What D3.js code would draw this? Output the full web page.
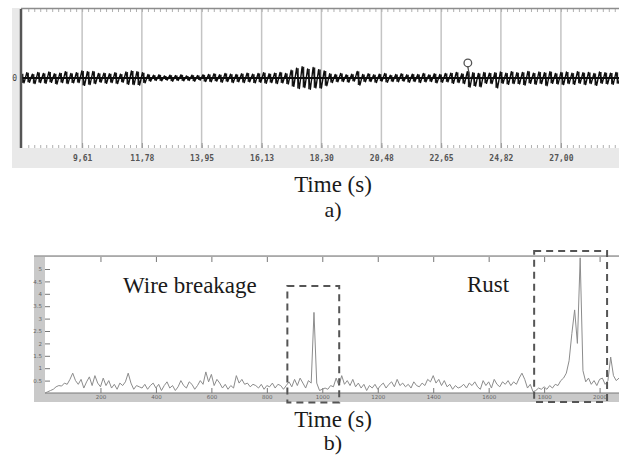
<!DOCTYPE html>
<html>
<head>
<meta charset="utf-8">
<script src="https://cdn.jsdelivr.net/npm/d3@7"></script>
<style>
  body { margin: 0; background: #fff; }
  svg { display: block; }
</style>
</head>
<body>
<div id="chart"></div>
<script>
// panel a) : raw signal, envelope per 0.2 s bin (hi / lo)
const startA = 7.4;
const binA = 0.2;
const hiA = [
  1.2, 1.5, 1.1, 1.6, 1.3, 1.7, 1.2, 1.4, 1.8, 1.3,
  1.5, 2.0, 1.8, 1.9, 1.3, 1.4, 1.2, 1.5, 1.1, 1.7,
  2.0, 1.8, 1.5, 1.0, 0.8, 0.9, 0.6, 0.8, 0.7, 0.9,
  0.6, 0.8, 0.7, 0.9, 1.0, 1.2, 0.9, 1.3, 1.1, 1.0,
  1.2, 1.4, 1.1, 1.3, 1.5, 1.2, 1.4, 1.6, 1.3, 2.2,
  2.8, 3.2, 2.6, 3.0, 2.4, 2.0, 1.2, 1.0, 1.3, 0.9,
  1.1, 1.9, 1.0, 1.2, 0.9, 1.1, 1.3, 0.8, 1.0, 1.2,
  0.9, 1.1, 1.0, 1.3, 0.9, 1.2, 1.0, 1.3, 1.4, 1.6,
  1.2, 1.8, 1.5, 1.3, 1.6, 1.4, 1.5, 1.7, 1.4, 1.8,
  1.5, 1.6, 1.9, 1.4, 1.7, 1.5, 1.8, 1.3, 1.6, 1.7,
  1.4, 1.8, 1.5, 1.6, 1.3, 1.7, 1.5, 1.4, 1.6
];
const loA = [
  -1.4, -1.2, -1.6, -1.3, -1.5, -1.2, -1.7, -1.3, -1.6, -1.4,
  -1.3, -2.1, -1.9, -1.6, -1.2, -1.5, -1.3, -1.6, -1.2, -1.8,
  -1.9, -2.0, -1.4, -0.9, -0.7, -0.8, -0.6, -0.9, -0.7, -0.8,
  -0.7, -0.9, -0.6, -1.0, -1.1, -0.9, -1.2, -1.0, -1.3, -1.1,
  -1.3, -1.1, -1.4, -1.2, -1.5, -1.3, -1.6, -1.4, -1.7, -2.4,
  -3.0, -2.7, -3.2, -2.8, -2.9, -2.2, -1.3, -1.1, -1.0, -1.2,
  -0.9, -2.0, -1.1, -1.0, -1.3, -0.9, -1.2, -1.0, -1.1, -0.9,
  -1.2, -1.0, -1.3, -1.1, -1.0, -1.4, -1.2, -1.1, -1.5, -1.3,
  -1.6, -2.6, -2.3, -2.5, -1.5, -1.6, -2.8, -1.5, -1.8, -1.6,
  -1.7, -2.0, -1.5, -1.8, -1.6, -2.2, -1.5, -1.7, -1.9, -1.6,
  -1.8, -1.5, -1.9, -1.6, -2.1, -1.5, -1.7, -1.8, -1.6
];
const ticksA = [9.61, 11.78, 13.95, 16.13, 18.30, 20.48, 22.65, 24.82, 27.00];
const tickLabelsA = ["9,61", "11,78", "13,95", "16,13", "18,30", "20,48", "22,65", "24,82", "27,00"];
const markerA = { t: 23.62, v: 4.3 };

// panel b) : processed signal, one value every 10 s
const stepB = 10;
const valuesB = [
  0.0, 0.05, 0.1, 0.15, 0.25, 0.3, 0.28, 0.4, 0.35, 0.55,
  0.8, 0.5, 0.35, 0.55, 0.2, 0.45, 0.65, 0.3, 0.7, 0.4,
  0.25, 0.6, 0.3, 0.5, 0.2, 0.35, 0.15, 0.4, 0.3, 0.45,
  0.8, 0.4, 0.15, 0.3, 0.25, 0.2, 0.35, 0.15, 0.3, 0.4,
  0.2, 0.35, 0.1, 0.3, 0.45, 0.2, 0.3, 0.1, 0.25, 0.5,
  0.3, 0.2, 0.45, 0.35, 0.15, 0.3, 0.5, 0.35, 0.85, 0.45,
  0.75, 0.3, 0.55, 0.4, 0.2, 0.35, 0.15, 0.3, 0.2, 0.7,
  0.4, 0.55, 0.35, 0.4, 0.25, 0.35, 0.3, 0.2, 0.35, 0.15,
  0.3, 0.25, 0.4, 0.2, 0.35, 0.3, 0.15, 0.3, 0.45, 0.25,
  0.55, 0.3, 0.6, 0.4, 0.2, 0.5, 0.4, 3.25, 0.4, 0.1,
  0.15, 0.2, 0.15, 0.3, 0.25, 0.6, 0.3, 0.7, 0.35, 0.5,
  0.3, 0.55, 0.25, 0.4, 0.2, 0.35, 0.1, 0.3, 0.2, 0.35,
  0.15, 0.3, 0.4, 0.2, 0.35, 0.45, 0.25, 0.55, 0.3, 0.4,
  0.25, 0.35, 0.2, 0.45, 0.3, 0.25, 0.4, 0.3, 0.55, 0.45,
  0.7, 0.4, 0.55, 0.3, 0.5, 0.25, 0.35, 0.15, 0.3, 0.2,
  0.25, 0.35, 0.2, 0.4, 0.3, 0.45, 0.25, 0.15, 0.5, 0.3,
  0.45, 0.2, 0.55, 0.35, 0.25, 0.45, 0.35, 0.5, 0.3, 0.45,
  0.35, 0.6, 0.8, 0.55, 0.2, 0.35, 0.05, 0.1, 0.2, 0.15,
  0.25, 0.15, 0.3, 0.2, 0.35, 0.3, 0.5, 0.6, 0.8, 1.3,
  2.4, 3.35, 2.0, 5.45, 0.9, 0.45, 0.6, 0.35, 0.5, 0.3,
  0.55, 0.6, 0.35, 0.5, 1.45, 0.7, 0.5, 0.6
];
const ticksBx = [200, 400, 600, 800, 1000, 1200, 1400, 1600, 1800, 2000];
const ticksBy = [0.5, 1, 1.5, 2, 2.5, 3, 3.5, 4, 4.5, 5];
const boxesB = [
  { label: "Wire breakage", t0: 874, t1: 1061, top: 4.31, bottom: -0.38 },
  { label: "Rust", t0: 1764, t1: 2027, top: 5.73, bottom: -0.36 }
];

const serif = "'Liberation Serif', 'Times New Roman', serif";

function drawChart() {
    const svg = d3.select("#chart")
        .append("svg")
        .attr("width", 619)
        .attr("height", 459);

    const blur = svg.append("defs")
        .append("filter")
        .attr("id", "soft")
        .attr("x", "-5%").attr("y", "-50%")
        .attr("width", "110%").attr("height", "200%");
    blur.append("feGaussianBlur").attr("stdDeviation", 0.6);

    drawPanelA(svg);
    drawPanelB(svg);
}

function drawPanelA(svg) {
    const x = d3.scaleLinear().domain([7.39, 29.11]).range([21, 619]);
    const y = d3.scaleLinear().domain([-20, 20]).range([148, 8]);

    svg.append("rect")
        .attr("x", 12).attr("y", 8)
        .attr("width", 607).attr("height", 160)
        .attr("fill", "#e9e9e9");

    svg.append("rect")
        .attr("x", 21).attr("y", 9)
        .attr("width", 598).attr("height", 139)
        .attr("fill", "#fff");

    // grid lines
    svg.append("g")
        .selectAll("line")
        .data(ticksA)
        .join("line")
        .attr("x1", d => x(d)).attr("x2", d => x(d))
        .attr("y1", 9).attr("y2", 148)
        .attr("stroke", "#c4c4c4")
        .attr("stroke-width", 1.5);

    // dotted minor ticks, top and bottom
    const minorStep = (ticksA[ticksA.length - 1] - ticksA[0]) / (ticksA.length - 1) / 10;
    const minor = d3.range(-12, 100)
        .map(k => ticksA[0] + k * minorStep)
        .filter(t => x(t) > 23 && x(t) < 619);

    svg.append("g")
        .attr("transform", "translate(0,9)")
        .attr("color", "#b0b0b0")
        .call(d3.axisBottom(x).tickValues(minor).tickSize(3).tickFormat(""))
        .call(g => g.select(".domain").remove());

    svg.append("g")
        .attr("transform", "translate(0,148)")
        .attr("color", "#b0b0b0")
        .call(d3.axisTop(x).tickValues(minor).tickSize(3).tickFormat(""))
        .call(g => g.select(".domain").remove());

    svg.append("g")
        .attr("transform", "translate(0,148)")
        .attr("color", "#999")
        .call(d3.axisBottom(x).tickValues(ticksA).tickSize(-5)
            .tickFormat((d, i) => tickLabelsA[i]).tickPadding(7))
        .call(g => g.select(".domain").remove())
        .selectAll("text")
        .attr("fill", "#555")
        .style("font-family", "'DejaVu Sans Mono', monospace")
        .style("font-weight", "bold")
        .style("font-size", "8px");

    // top border
    svg.append("line")
        .attr("x1", 21).attr("x2", 619)
        .attr("y1", 8.5).attr("y2", 8.5)
        .attr("stroke", "#8c8c8c")
        .attr("stroke-width", 1.5);

    // signal: min/max bar per bin plus a trace through the extremes
    const sig = svg.append("g").attr("filter", "url(#soft)");

    sig.selectAll("line")
        .data(hiA)
        .join("line")
        .attr("x1", (d, i) => x(startA + i * binA + binA / 4))
        .attr("x2", (d, i) => x(startA + i * binA + binA / 4))
        .attr("y1", d => y(d))
        .attr("y2", (d, i) => y(loA[i]))
        .attr("stroke", "#222")
        .attr("stroke-width", 1.6);

    const pts = [];
    hiA.forEach((h, i) => {
        const t = startA + i * binA;
        pts.push([t, h]);
        pts.push([t + binA / 2, loA[i]]);
    });

    const line = d3.line()
        .x(d => x(d[0]))
        .y(d => y(d[1]));

    sig.append("path")
        .datum(pts)
        .attr("fill", "none")
        .attr("stroke", "#111")
        .attr("stroke-width", 1.4)
        .attr("stroke-linejoin", "round")
        .attr("d", line);

    sig.append("line")
        .attr("x1", x(startA)).attr("x2", 619)
        .attr("y1", y(0)).attr("y2", y(0))
        .attr("stroke", "#111")
        .attr("stroke-width", 2);

    // marker on the trace
    svg.append("line")
        .attr("x1", x(markerA.t)).attr("x2", x(markerA.t) + 2)
        .attr("y1", y(markerA.v) + 4).attr("y2", y(0))
        .attr("stroke", "#444")
        .attr("stroke-width", 1.2);

    svg.append("circle")
        .attr("cx", x(markerA.t))
        .attr("cy", y(markerA.v))
        .attr("r", 3.8)
        .attr("fill", "none")
        .attr("stroke", "#555")
        .attr("stroke-width", 1.3);

    // left axis
    svg.append("g")
        .attr("transform", "translate(21,0)")
        .attr("color", "#555")
        .call(d3.axisLeft(y).tickValues([0]).tickSize(0).tickPadding(4))
        .call(g => g.select(".domain")
            .attr("d", "M0,9V148")
            .attr("stroke-width", 2.5))
        .selectAll("text")
        .attr("fill", "#444")
        .style("font-family", "'DejaVu Sans Mono', monospace")
        .style("font-size", "8px");

    svg.append("text")
        .attr("x", 333).attr("y", 192)
        .attr("text-anchor", "middle")
        .style("font-family", serif)
        .style("font-size", "23px")
        .attr("fill", "#1a1a1a")
        .text("Time (s)");

    svg.append("text")
        .attr("x", 333).attr("y", 217)
        .attr("text-anchor", "middle")
        .style("font-family", serif)
        .style("font-size", "22px")
        .attr("fill", "#1a1a1a")
        .text("a)");
}

function drawPanelB(svg) {
    const x = d3.scaleLinear().domain([0, 2070]).range([45, 619]);
    const y = d3.scaleLinear().domain([0, 5.5]).range([393, 256.6]);

    svg.append("rect")
        .attr("x", 34).attr("y", 255.5)
        .attr("width", 585).attr("height", 146.5)
        .attr("fill", "#c9c9c9");

    svg.append("rect")
        .attr("x", 45).attr("y", 257)
        .attr("width", 574).attr("height", 136)
        .attr("fill", "#fff");

    svg.append("line")
        .attr("x1", 34).attr("x2", 619)
        .attr("y1", 256).attr("y2", 256)
        .attr("stroke", "#8a8a8a")
        .attr("stroke-width", 1.2);

    svg.append("line")
        .attr("x1", 45).attr("x2", 619)
        .attr("y1", 393).attr("y2", 393)
        .attr("stroke", "#7a7a7a")
        .attr("stroke-width", 1.2);

    const tickText = sel => sel.selectAll("text")
        .attr("fill", "#666")
        .style("font-family", "'DejaVu Sans', sans-serif")
        .style("font-size", "5.5px");

    svg.append("g")
        .attr("transform", "translate(0,393)")
        .attr("color", "#777")
        .call(d3.axisBottom(x).tickValues(ticksBx).tickSize(-5).tickPadding(2)
            .tickFormat(d3.format("d")))
        .call(g => g.select(".domain").remove())
        .call(tickText);

    svg.append("g")
        .attr("transform", "translate(0,257)")
        .attr("color", "#777")
        .call(d3.axisTop(x).tickValues(ticksBx).tickSize(-5).tickFormat(""))
        .call(g => g.select(".domain").remove());

    svg.append("g")
        .attr("transform", "translate(45,0)")
        .attr("color", "#777")
        .call(d3.axisLeft(y).tickValues(ticksBy).tickSize(-5).tickPadding(3)
            .tickFormat(d => String(d)))
        .call(g => g.select(".domain").remove())
        .call(tickText);

    const line = d3.line()
        .x((d, i) => x(i * stepB))
        .y(d => y(d));

    svg.append("path")
        .datum(valuesB)
        .attr("fill", "none")
        .attr("stroke", "#8c8c8c")
        .attr("stroke-width", 1)
        .attr("d", line);

    // dashed boxes around the two events
    boxesB.forEach(b => {
        svg.append("rect")
            .attr("x", x(b.t0))
            .attr("y", y(b.top))
            .attr("width", x(b.t1) - x(b.t0))
            .attr("height", y(b.bottom) - y(b.top))
            .attr("fill", "none")
            .attr("stroke", "#555")
            .attr("stroke-width", 2)
            .attr("stroke-dasharray", "7,5");
    });

    svg.append("text")
        .attr("x", 123).attr("y", 293)
        .style("font-family", serif)
        .style("font-size", "23px")
        .attr("fill", "#1a1a1a")
        .text(boxesB[0].label);

    svg.append("text")
        .attr("x", 467).attr("y", 292)
        .style("font-family", serif)
        .style("font-size", "23px")
        .attr("fill", "#1a1a1a")
        .text(boxesB[1].label);

    svg.append("text")
        .attr("x", 333).attr("y", 427)
        .attr("text-anchor", "middle")
        .style("font-family", serif)
        .style("font-size", "23px")
        .attr("fill", "#1a1a1a")
        .text("Time (s)");

    svg.append("text")
        .attr("x", 333).attr("y", 450)
        .attr("text-anchor", "middle")
        .style("font-family", serif)
        .style("font-size", "22px")
        .attr("fill", "#1a1a1a")
        .text("b)");
}

drawChart();
</script>
</body>
</html>
